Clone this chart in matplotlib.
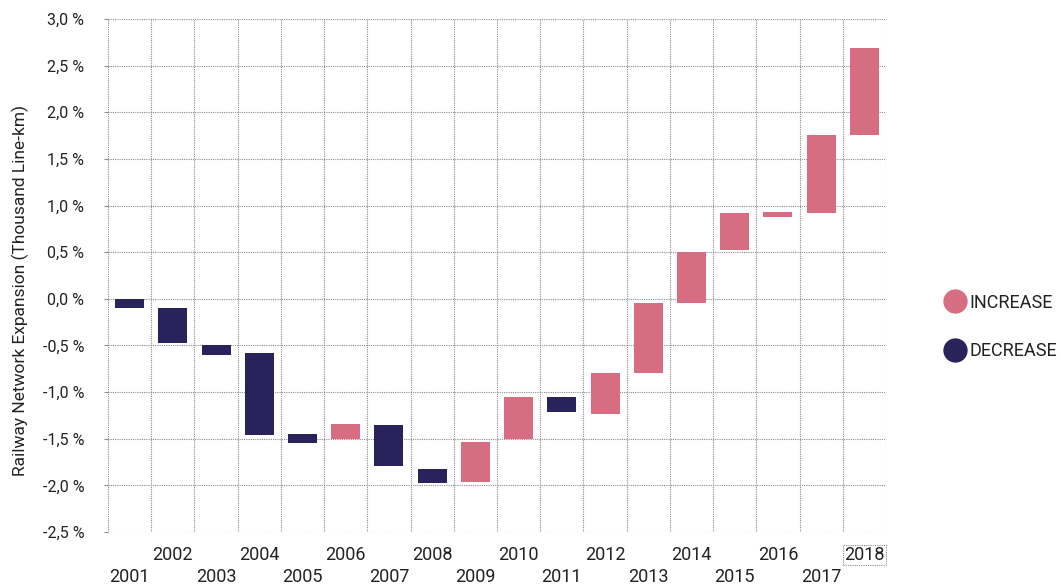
import numpy as np
import matplotlib
matplotlib.use("Agg")
import matplotlib.pyplot as plt
from matplotlib.lines import Line2D

years = list(range(2001, 2019))
# start and end of each floating bar, in percent
start = [0.0, -0.10, -0.49, -0.58, -1.45, -1.50, -1.35, -1.82, -1.96, -1.50,
         -1.05, -1.24, -0.79, -0.05, 0.52, 0.88, 0.92, 1.76]
end = [-0.10, -0.47, -0.60, -1.46, -1.55, -1.34, -1.79, -1.98, -1.53, -1.05,
       -1.21, -0.79, -0.05, 0.50, 0.92, 0.93, 1.76, 2.69]

PINK = "#D66D80"
NAVY = "#29235C"
GRID = "#8c8c8c"
TXT = "#222222"

plt.rcParams["font.family"] = ["Roboto", "DejaVu Sans"]

fig = plt.figure(figsize=(10.61, 5.85), dpi=100)
ax = fig.add_axes([108 / 1061, 1 - 532 / 585, (886 - 108) / 1061, (532 - 19) / 585])

x = np.arange(len(years))
s = np.array(start)
e = np.array(end)
colors = [PINK if b > a else NAVY for a, b in zip(s, e)]
ax.bar(x, np.abs(e - s), bottom=np.minimum(s, e), width=0.67, color=colors, zorder=3)

ax.set_xlim(-0.5, len(years) - 0.5)
ax.set_ylim(-2.5, 3.0)

yt = np.arange(-2.5, 3.01, 0.5)
ax.set_yticks(yt)
ax.set_yticklabels([f"{round(v, 1):.1f} %".replace(".", ",") for v in yt],
                   fontsize=11.5, color=TXT)

ax.set_xticks(x)
xl = [f"\n{y}" if i % 2 == 0 else f"{y}" for i, y in enumerate(years)]
ax.set_xticklabels(xl, fontsize=13, color=TXT, linespacing=1.3)
ax.set_xticks(np.arange(-0.5, len(years), 1), minor=True)

for sp in ax.spines.values():
    sp.set_visible(False)
ax.tick_params(axis="x", which="both", length=0, pad=10)
ax.tick_params(axis="y", length=3, color=GRID, pad=14)
ax.grid(True, which="minor", axis="x", ls=(0, (1, 1)), color=GRID, lw=0.8, zorder=0)
ax.grid(True, which="major", axis="y", ls=(0, (1, 1)), color=GRID, lw=0.8, zorder=0)

ax.get_xticklabels()[-1].set_bbox(dict(boxstyle="square,pad=0.05", fc="none",
                                      ec=GRID, ls=(0, (1, 1)), lw=0.8))

ax.set_ylabel("Railway Network Expansion (Thousand Line-km)", fontsize=12.5, color=TXT)
ax.yaxis.set_label_coords(-0.102, 0.47)

handles = [Line2D([], [], ls="none", marker="o", ms=16.5, color=PINK),
           Line2D([], [], ls="none", marker="o", ms=16.5, color=NAVY)]
fig.legend(handles, ["INCREASE", "DECREASE"], loc="center left",
           bbox_to_anchor=(929 / 1061, 1 - 327 / 585), frameon=False,
           fontsize=13, labelspacing=1.7, handletextpad=0.25, handlelength=1.1,
           labelcolor=TXT)

fig.savefig("out.png", dpi=100)
